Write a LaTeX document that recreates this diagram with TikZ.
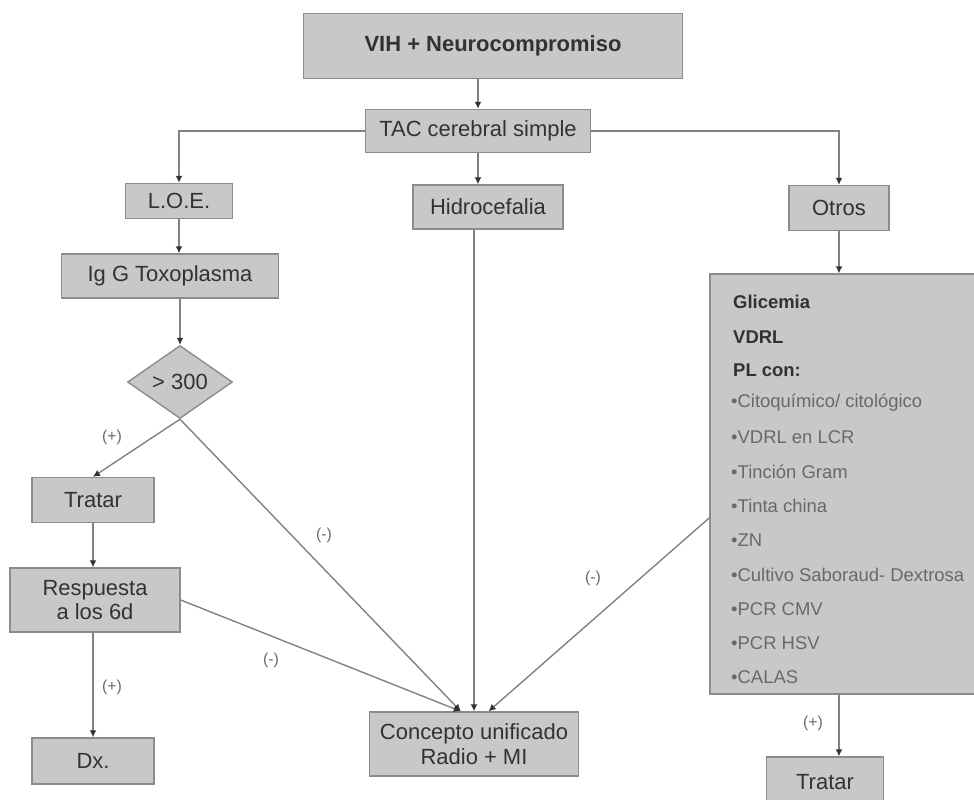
\documentclass[tikz,border=0pt]{standalone}
\usepackage{fontspec}
\setmainfont{Liberation Sans}
\usetikzlibrary{positioning, arrows.meta, shapes.geometric, calc}

\definecolor{boxfill}{RGB}{200,200,200}
\definecolor{boxline}{RGB}{140,140,140}
\definecolor{wire}{RGB}{130,130,130}
\definecolor{ink}{RGB}{50,50,50}
\definecolor{softink}{RGB}{105,105,105}

\begin{document}
\begin{tikzpicture}[
    x=0.02cm, y=-0.02cm,
    box/.style={draw=boxline, fill=boxfill, line width=0.8pt, text=ink,
        font=\fontsize{12.5}{14.5}\selectfont, align=center, inner sep=0pt},
    arrow/.style={-{Latex[length=4pt, width=4pt, color=ink]}, draw=wire, line width=0.8pt},
    sign/.style={text=softink, font=\fontsize{9}{10}\selectfont},
    boldline/.style={anchor=west, text=ink, font=\fontsize{10.5}{12}\selectfont\bfseries},
    listline/.style={anchor=west, text=softink, font=\fontsize{10.5}{12}\selectfont}
]
    \useasboundingbox (0,0) rectangle (974,799);

    % Top of the chart
    \node[box, minimum width=7.58cm, minimum height=1.30cm, font=\fontsize{12.5}{14.5}\selectfont\bfseries] (vih) at (493,46) {VIH + Neurocompromiso};
    \node[box, minimum width=4.50cm, minimum height=0.86cm] (tac) at (478,131) {TAC cerebral simple};

    % Second row
    \node[box, minimum width=2.14cm, minimum height=0.70cm] (loe) at (179,201) {L.O.E.};
    \node[box, minimum width=3.00cm, minimum height=0.88cm] (hidro) at (488,207) {Hidrocefalia};
    \node[box, minimum width=2.00cm, minimum height=0.90cm] (otros) at (839,208) {Otros};

    % Left branch
    \node[box, minimum width=4.34cm, minimum height=0.88cm] (igg) at (170,276) {Ig G Toxoplasma};
    \node[box, diamond, minimum width=2.10cm, minimum height=1.46cm] (cutoff) at (180,382) {> 300};
    \node[box, minimum width=2.44cm, minimum height=0.90cm] (tratarA) at (93,500) {Tratar};
    \node[box, minimum width=3.40cm, minimum height=1.28cm, font=\fontsize{12.5}{13.6}\selectfont] (resp) at (95,600) {Respuesta\\a los 6d};
    \node[box, minimum width=2.44cm, minimum height=0.92cm] (dx) at (93,761) {Dx.};

    % Center
    \node[box, minimum width=4.18cm, minimum height=1.28cm] (concepto) at (474,744) {Concepto unificado\\Radio + MI};

    % Right branch
    \node[box, minimum width=5.40cm, minimum height=8.40cm] (labs) at (845,484) {};
    \node[boldline] (gli) at (727,302) {Glicemia};
    \node[boldline] (vdrl) at (727,337) {VDRL};
    \node[boldline] (plcon) at (727,370) {PL con:};
    \foreach \t [count=\i] in {Citoquímico/ citológico, VDRL en LCR, Tinción Gram, Tinta china,
        ZN, Cultivo Saboraud- Dextrosa, PCR CMV, PCR HSV, CALAS}
        \node[listline] (item\i) at (725,{403+34.3*(\i-1)}) {•\t};
    \node[box, minimum width=2.34cm, minimum height=1.00cm] (tratarB) at (825,782) {Tratar};

    % Connectors
    \draw[arrow] (tac.north |- vih.south) -- (tac.north);
    \draw[arrow] (tac.west) -| (loe.north);
    \draw[arrow] (tac.east) -| (otros.north);
    \draw[arrow] (tac.south) -- (tac.south |- hidro.north);
    \draw[arrow] (loe.south) -- (loe.south |- igg.north);
    \draw[arrow] (cutoff.north |- igg.south) -- (cutoff.north);
    \draw[arrow] (cutoff.south) -- (tratarA.north);
    \draw[arrow] (cutoff.south) -- (concepto.112);
    \draw[arrow] (tratarA.south) -- (tratarA.south |- resp.north);
    \draw[arrow] (resp.east) -- (concepto.112);
    \draw[arrow] (dx.north |- resp.south) -- (dx.north);
    \draw[arrow] (concepto.north |- hidro.south) -- (concepto.north);
    \draw[arrow] (labs.194) -- (concepto.66);
    \draw[arrow] (otros.south) -- (otros.south |- labs.north);
    \draw[arrow] (otros.south |- labs.south) -- (otros.south |- tratarB.north);

    % Branch signs
    \node[sign] (posA) at (112,437) {(+)};
    \node[sign] (negA) at (324,535) {(-)};
    \node[sign] (negB) at (271,660) {(-)};
    \node[sign] (posB) at (112,687) {(+)};
    \node[sign] (negC) at (593,578) {(-)};
    \node[sign] (posC) at (813,723) {(+)};
\end{tikzpicture}
\end{document}
